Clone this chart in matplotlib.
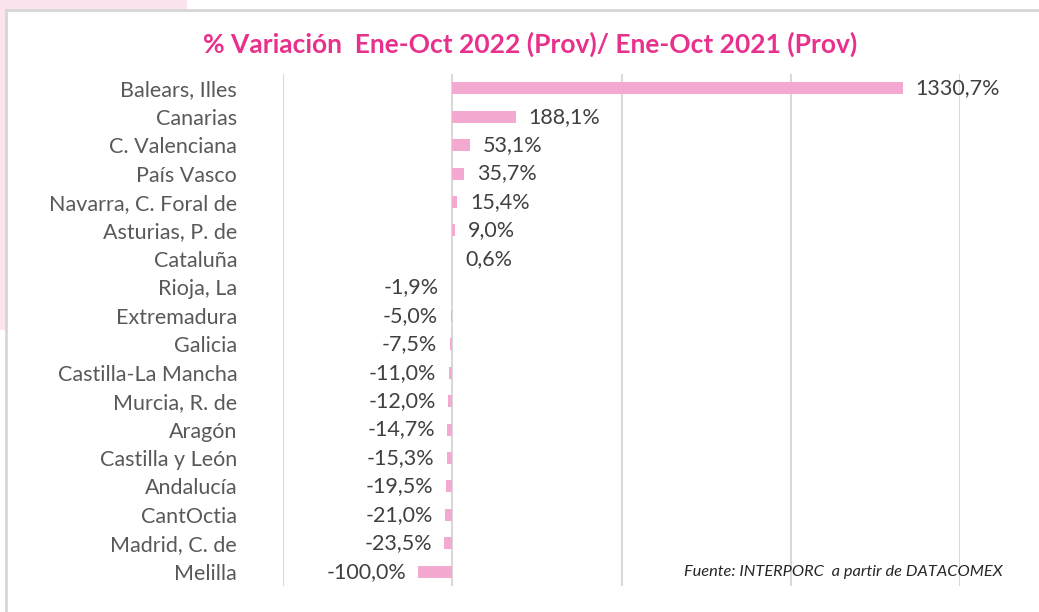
import matplotlib.pyplot as plt
import matplotlib.patches as mpatches

# variacion ene-oct 2022 vs ene-oct 2021, por comunidad
regiones = ["Balears, Illes", "Canarias", "C. Valenciana", "País Vasco",
            "Navarra, C. Foral de", "Asturias, P. de", "Cataluña", "Rioja, La",
            "Extremadura", "Galicia", "Castilla-La Mancha", "Murcia, R. de",
            "Aragón", "Castilla y León", "Andalucía", "CantOctia",
            "Madrid, C. de", "Melilla"]
variacion = [1330.7, 188.1, 53.1, 35.7, 15.4, 9.0, 0.6, -1.9, -5.0, -7.5,
             -11.0, -12.0, -14.7, -15.3, -19.5, -21.0, -23.5, -100.0]
ticks_x = [-500, 0, 500, 1000, 1500]

rosa = "#f4a9d0"
titulo_color = "#e8318c"

fig = plt.figure(figsize=(10.39, 6.12), dpi=100)
W, H = 1039, 612

# fondo rosa detras del marco
fig.patches.append(mpatches.Rectangle((0, 1 - 330 / H), 187 / W, 330 / H,
                                      transform=fig.transFigure,
                                      facecolor="#fce4ef", edgecolor="none", zorder=-2))
fig.patches.append(mpatches.Rectangle((5.5 / W, -0.05), 1.1, 1 - 9.5 / H + 0.05,
                                      transform=fig.transFigure,
                                      facecolor="white", edgecolor="#d6d6d6",
                                      linewidth=2, zorder=-1))

ax = fig.add_axes([283 / W, 1 - 586 / H, (960 - 283) / W, (586 - 74) / H])
ax.set_facecolor("none")

y = list(range(len(regiones)))
ax.barh(y, variacion, height=0.42, color=rosa, zorder=2)

for yi, v in zip(y, variacion):
    txt = f"{v:.1f}".replace(".", ",") + "%"
    if v >= 0:
        ax.annotate(txt, (v, yi), xytext=(9, 0), textcoords="offset points",
                    ha="left", va="center", fontsize=15.5, color="#404040",
                    family="Lato")
    else:
        ax.annotate(txt, (v, yi), xytext=(-9, 0), textcoords="offset points",
                    ha="right", va="center", fontsize=15.5, color="#404040",
                    family="Lato")

ax.set_xlim(-500, 1500)
ax.set_ylim(len(regiones) - 0.5, -0.5)
ax.set_xticks(ticks_x)
ax.set_xticklabels([])
ax.set_yticks(y)
ax.set_yticklabels(regiones, fontsize=15.5, color="#595959", family="Lato")
ax.tick_params(axis="both", length=0, pad=33)
ax.grid(axis="x", color="#d9d9d9", linewidth=1.5, zorder=0)
for s in ax.spines.values():
    s.set_visible(False)

fig.text(530 / W, 1 - 44 / H,
         "% Variación  Ene-Oct 2022 (Prov)/ Ene-Oct 2021 (Prov)",
         ha="center", va="center", fontsize=19, fontweight="bold",
         color=titulo_color, family="Lato")
fig.text(1003 / W, 1 - 572 / H, "Fuente: INTERPORC  a partir de DATACOMEX",
         ha="right", va="center", fontsize=11.8, style="italic",
         color="#262626", family="Lato")

fig.savefig("out.png", dpi=100)
